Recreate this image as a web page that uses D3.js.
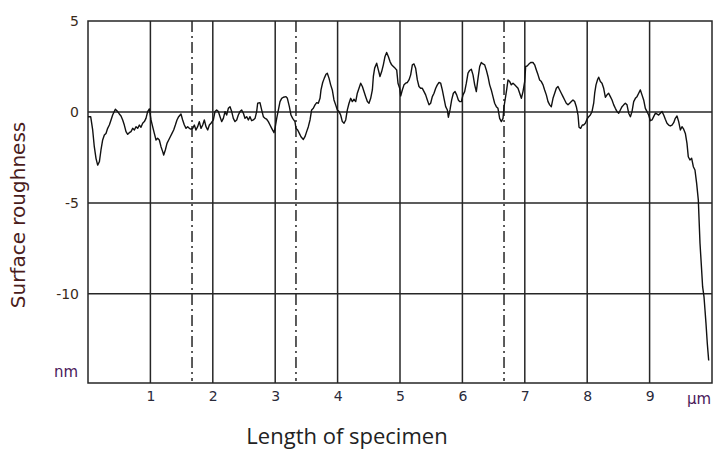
<!DOCTYPE html>
<html>
<head>
<meta charset="utf-8">
<script src="https://cdn.jsdelivr.net/npm/d3@7"></script>
<style>
  body { margin: 0; background: #fff; }
  svg { display: block; }
</style>
</head>
<body>
<script>
// profile of the specimen surface (x in um, y in nm)
var profileX = [0, 0.043, 0.075, 0.101, 0.128, 0.155, 0.182, 0.208, 0.235, 0.262, 0.288, 0.315, 0.342, 0.369, 0.395, 0.438, 0.475, 0.502, 0.529, 0.556, 0.582, 0.609, 0.636, 0.662, 0.689, 0.716, 0.743, 0.769, 0.796, 0.823, 0.849, 0.876, 0.903, 0.929, 0.956, 0.983, 1.01, 1.036, 1.063, 1.09, 1.116, 1.143, 1.17, 1.197, 1.213, 1.239, 1.266, 1.293, 1.319, 1.346, 1.373, 1.4, 1.426, 1.453, 1.49, 1.517, 1.544, 1.571, 1.597, 1.624, 1.65, 1.677, 1.704, 1.73, 1.757, 1.784, 1.811, 1.838, 1.864, 1.891, 1.918, 1.945, 1.971,
  2.009, 2.035, 2.062, 2.089, 2.116, 2.142, 2.169, 2.196, 2.222, 2.249, 2.276, 2.303, 2.329, 2.356, 2.383, 2.409, 2.436, 2.463, 2.49, 2.516, 2.543, 2.57, 2.596, 2.623, 2.65, 2.677, 2.703, 2.719, 2.756, 2.783, 2.81, 2.837, 2.863, 2.89, 2.917, 2.944, 2.981, 2.997, 3.024, 3.051, 3.077, 3.104, 3.131, 3.173, 3.195, 3.227, 3.253, 3.28, 3.317, 3.333, 3.36, 3.387, 3.413, 3.451, 3.477, 3.504, 3.531, 3.558, 3.584, 3.611, 3.638, 3.665, 3.691, 3.718, 3.734, 3.761, 3.787, 3.814, 3.835, 3.862, 3.889, 3.915, 3.942, 3.969,
  3.996, 4.023, 4.049, 4.076, 4.103, 4.13, 4.156, 4.183, 4.21, 4.236, 4.263, 4.29, 4.316, 4.343, 4.37, 4.397, 4.423, 4.45, 4.477, 4.503, 4.53, 4.557, 4.573, 4.594, 4.626, 4.653, 4.679, 4.706, 4.733, 4.76, 4.786, 4.813, 4.84, 4.866, 4.893, 4.92, 4.947, 4.968, 4.995, 5.011, 5.037, 5.064, 5.091, 5.118, 5.144, 5.171, 5.198, 5.224, 5.251, 5.278, 5.304, 5.331, 5.358, 5.385, 5.411, 5.438, 5.465, 5.491, 5.518, 5.545, 5.572, 5.598, 5.625, 5.652, 5.678, 5.705, 5.732, 5.759, 5.775, 5.801, 5.828, 5.855, 5.882, 5.908, 5.935,
  5.956, 5.983, 6.01, 6.036, 6.063, 6.09, 6.116, 6.143, 6.17, 6.197, 6.223, 6.25, 6.277, 6.303, 6.33, 6.357, 6.383, 6.41, 6.437, 6.463, 6.49, 6.517, 6.544, 6.57, 6.597, 6.624, 6.651, 6.667, 6.688, 6.709, 6.731, 6.758, 6.784, 6.811, 6.838, 6.864, 6.891, 6.918, 6.945, 6.971, 6.998, 7.014, 7.041, 7.067, 7.094, 7.131, 7.158, 7.185, 7.212, 7.238, 7.265, 7.292, 7.318, 7.345, 7.372, 7.399, 7.425, 7.452, 7.479, 7.505, 7.532, 7.559, 7.585, 7.612, 7.639, 7.665, 7.692, 7.719, 7.746, 7.772, 7.799, 7.826, 7.853, 7.869, 7.895, 7.922,
  7.943, 7.97, 7.997, 8.024, 8.05, 8.077, 8.104, 8.12, 8.141, 8.168, 8.184, 8.211, 8.237, 8.264, 8.291, 8.318, 8.344, 8.371, 8.398, 8.425, 8.451, 8.478, 8.505, 8.531, 8.558, 8.585, 8.611, 8.638, 8.665, 8.692, 8.718, 8.745, 8.772, 8.798, 8.825, 8.852, 8.878, 8.905, 8.932, 8.959, 8.985, 9.012, 9.039, 9.065, 9.092, 9.119, 9.145, 9.172, 9.199, 9.226, 9.252, 9.279, 9.306, 9.332, 9.359, 9.386, 9.412, 9.439, 9.466, 9.493, 9.519, 9.546, 9.573, 9.599, 9.62, 9.647, 9.674, 9.701, 9.727,
  9.754, 9.781, 9.791, 9.808, 9.834, 9.85, 9.872, 9.888, 9.904, 9.925, 9.947];
var profileY = [-0.26, -0.26, -0.99, -1.91, -2.55, -2.92, -2.74, -2.09, -1.54, -1.27, -1.18, -0.9, -0.72, -0.44, -0.17, 0.15, 0.02, -0.11, -0.22, -0.44, -0.72, -1.08, -1.23, -1.14, -1.08, -0.9, -0.99, -0.81, -0.9, -0.72, -0.84, -0.62, -0.53, -0.35, 0.02, 0.17, -0.44, -0.81, -1.18, -1.54, -1.45, -1.54, -1.91, -2.18, -2.37, -2.09, -1.73, -1.54, -1.36, -1.18, -0.99, -0.72, -0.44, -0.26, -0.11, -0.44, -0.72, -0.9, -0.81, -0.9, -0.95, -0.9, -0.72, -0.99, -0.81, -0.53, -0.9, -0.72, -0.44, -0.81, -0.99, -0.72, -0.62,
  -0.44, 0.02, 0.11, 0.02, -0.26, -0.53, -0.35, 0.02, -0.17, 0.2, 0.29, 0.02, -0.35, -0.53, -0.44, -0.17, 0.02, 0.11, -0.07, -0.35, -0.26, -0.44, -0.26, -0.48, -0.44, -0.35, 0.02, 0.48, 0.51, 0.11, -0.26, -0.35, -0.4, -0.53, -0.72, -0.9, -1.14, -0.9, -0.35, 0.11, 0.57, 0.75, 0.81, 0.84, 0.75, 0.29, -0.17, -0.35, -0.53, -0.9, -0.99, -1.18, -1.36, -1.51, -1.36, -1.08, -0.81, -0.44, 0.11, 0.2, 0.39, 0.51, 0.48, 0.75, 1.21, 1.62, 1.86, 2.07, 2.13, 1.86, 1.49, 1.21, 0.66, 0.39,
  0.11, 0.02, -0.17, -0.53, -0.62, -0.44, 0.11, 0.48, 0.75, 0.57, 0.7, 0.57, 1.03, 1.3, 1.58, 1.4, 1.12, 0.84, 0.57, 0.48, 0.75, 1.21, 1.95, 2.41, 2.68, 2.31, 1.95, 2.22, 2.59, 3.05, 3.27, 3.05, 2.77, 2.59, 2.5, 2.41, 2.31, 1.58, 1.3, 0.88, 1.21, 1.49, 1.58, 1.62, 1.76, 2.04, 2.59, 2.64, 2.4, 1.76, 1.4, 1.3, 1.3, 1.12, 0.94, 0.66, 0.39, 0.48, 0.84, 1.03, 1.3, 1.49, 1.62, 1.58, 1.21, 0.75, 0.29, 0.11, -0.29, 0.11, 0.66, 1.03, 1.12, 0.94, 0.66,
  0.57, 0.57, 0.94, 1.12, 1.58, 2.13, 2.28, 2.35, 2.04, 1.49, 1.12, 1.85, 2.5, 2.72, 2.64, 2.59, 2.31, 1.95, 1.49, 1.21, 0.84, 0.48, 0.29, 0.2, -0.35, -0.53, -0.35, 0.29, 0.75, 1.21, 1.76, 1.67, 1.49, 1.58, 1.49, 1.4, 1.3, 1.03, 0.75, 1.12, 1.67, 2.5, 2.53, 2.64, 2.72, 2.72, 2.59, 2.31, 2.04, 1.76, 1.67, 1.49, 1.21, 0.94, 0.57, 0.39, 0.29, 0.75, 1.03, 1.3, 1.4, 1.21, 1.03, 0.84, 0.66, 0.48, 0.39, 0.48, 0.57, 0.66, 0.57, 0.29, -0.17, -0.84, -0.9, -0.72,
  -0.72, -0.62, -0.4, -0.26, -0.17, 0.02, 0.48, 1.03, 1.49, 1.8, 1.91, 1.67, 1.58, 1.3, 0.81, 0.94, 1.03, 0.84, 0.66, 0.39, 0.2, 0.02, -0.07, 0.11, 0.29, 0.39, 0.48, 0.39, -0.07, -0.26, 0.02, 0.57, 0.75, 0.84, 1.03, 1.21, 0.94, 0.66, 0.2, 0.02, -0.17, -0.48, -0.44, -0.26, -0.07, -0.11, -0.17, -0.07, 0.02, -0.17, -0.4, -0.62, -0.72, -0.77, -0.72, -0.59, -0.35, -0.22, -0.53, -0.99, -0.81, -0.95, -1.18, -1.73, -2.46, -2.64, -2.55, -3.01, -3.19,
  -3.93, -4.85, -5.76, -7.23, -8.7, -9.62, -10.17, -10.9, -11.64, -12.74, -13.66];

var yTicks = [5, 0, -5, -10];
var xTicks = [1, 2, 3, 4, 5, 6, 7, 8, 9];
var yGrid = [0, -5, -10];
var markers = [1.667, 3.333, 6.667];

var width = 717;
var height = 450;
var margin = { top: 21, right: 5, bottom: 67, left: 88 };
var graphWidth = width - margin.left - margin.right;
var graphHeight = height - margin.top - margin.bottom;

var svg = d3.select("body").append("svg")
  .attr("width", width)
  .attr("height", height);

var g = svg.append("g").attr("transform", `translate(${margin.left}, ${margin.top})`);

var x = d3.scaleLinear().domain([0, 10]).range([0, graphWidth]);
var y = d3.scaleLinear().domain([-14.9, 5]).range([graphHeight, 0]);

var gridColor = "#262626";
var tickFont = "Tahoma, 'DejaVu Sans', Verdana, sans-serif";

// vertical grid lines
g.append("g")
  .selectAll("line")
  .data(xTicks)
  .enter().append("line")
  .attr("x1", d => x(d)).attr("x2", d => x(d))
  .attr("y1", 0).attr("y2", graphHeight)
  .attr("stroke", gridColor).attr("stroke-width", 1.5);

// horizontal grid lines
g.append("g")
  .selectAll("line")
  .data(yGrid)
  .enter().append("line")
  .attr("x1", 0).attr("x2", graphWidth)
  .attr("y1", d => y(d)).attr("y2", d => y(d))
  .attr("stroke", gridColor).attr("stroke-width", 1.5);

// dash-dot marker lines
g.append("g")
  .selectAll("line")
  .data(markers)
  .enter().append("line")
  .attr("x1", d => x(d)).attr("x2", d => x(d))
  .attr("y1", 0).attr("y2", graphHeight - 2)
  .attr("stroke", gridColor).attr("stroke-width", 1.5)
  .attr("stroke-dasharray", "11,4,2,4");

// frame
g.append("rect")
  .attr("x", 0).attr("y", 0)
  .attr("width", graphWidth).attr("height", graphHeight)
  .attr("fill", "none")
  .attr("stroke", gridColor).attr("stroke-width", 1.5);

// profile line
var line = d3.line()
  .x((d, i) => x(profileX[i]))
  .y(d => y(d));

g.append("path")
  .datum(profileY)
  .attr("fill", "none")
  .attr("stroke", "#111")
  .attr("stroke-width", 1.4)
  .attr("stroke-linejoin", "round")
  .attr("d", line);

// axes (labels only)
var leftAxis = d3.axisLeft(y).tickValues(yTicks).tickSize(0).tickPadding(9)
  .tickFormat(d => String(d));
var yAxisG = g.append("g").call(leftAxis);
yAxisG.select(".domain").remove();
yAxisG.selectAll("text")
  .style("font-family", tickFont)
  .style("font-size", "14px")
  .attr("fill", "#3a2a1a");

var bottomAxis = d3.axisBottom(x).tickValues(xTicks).tickSize(0).tickPadding(8);
var xAxisG = g.append("g").attr("transform", `translate(0, ${graphHeight})`).call(bottomAxis);
xAxisG.select(".domain").remove();
xAxisG.selectAll("text")
  .style("font-family", tickFont)
  .style("font-size", "14px")
  .attr("fill", "#2a2a3a");

// units
g.append("text")
  .attr("x", -10).attr("y", graphHeight - 6)
  .attr("text-anchor", "end")
  .style("font-family", tickFont)
  .style("font-size", "15px")
  .attr("fill", "#4a1a5a")
  .text("nm");

g.append("text")
  .attr("x", graphWidth - 25).attr("y", graphHeight + 21)
  .style("font-family", tickFont)
  .style("font-size", "15px")
  .attr("fill", "#4a1a5a")
  .text("\u03bcm");

// axis titles
svg.append("text")
  .attr("transform", "translate(25, 215) rotate(-90)")
  .attr("text-anchor", "middle")
  .style("font-family", "'DejaVu Sans', Verdana, sans-serif")
  .style("font-size", "20px")
  .attr("fill", "#4a1c1c")
  .text("Surface roughness");

svg.append("text")
  .attr("x", 347).attr("y", 444)
  .attr("text-anchor", "middle")
  .style("font-family", "'Open Sans', sans-serif")
  .style("font-size", "22px")
  .attr("fill", "#222")
  .text("Length of specimen");
</script>
</body>
</html>
